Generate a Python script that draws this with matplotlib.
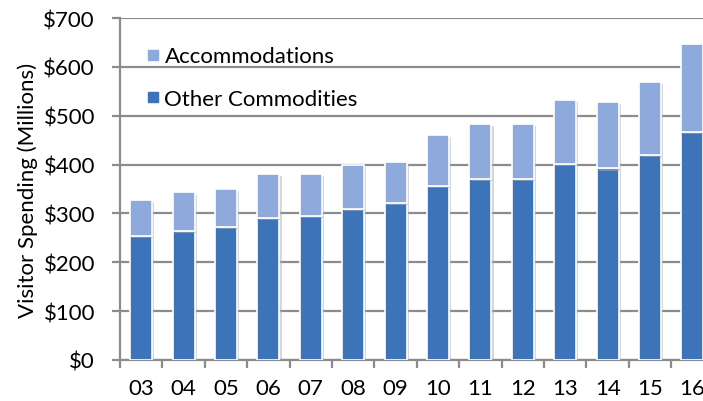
import matplotlib.pyplot as plt
import matplotlib.patheffects as pe
from matplotlib.lines import Line2D
import numpy as np

plt.rcParams['font.family'] = ['Lato', 'DejaVu Sans']

years = ['03', '04', '05', '06', '07', '08', '09', '10', '11', '12', '13', '14', '15', '16']
other = [254, 264, 272, 290, 294, 309, 321, 357, 370, 370, 401, 392, 420, 467]
accom = [74, 79, 78, 91, 87, 91, 85, 103, 113, 113, 132, 137, 150, 180]

dark = '#3C73B9'
light = '#8EAADC'
grid_c = '#8C8C8C'

fig = plt.figure(figsize=(7.03, 4.02), dpi=100)
ax = fig.add_axes([0.1707, 0.102, 0.8444, 0.8507])

x = np.arange(len(years))
shadow = [pe.SimplePatchShadow(offset=(1.5, -1.5), shadow_rgbFace='#b0b0b0', alpha=0.5), pe.Normal()]
b1 = ax.bar(x, other, width=0.52, color=dark, edgecolor='white', linewidth=1.2, zorder=3)
b2 = ax.bar(x, accom, width=0.52, bottom=other, color=light, edgecolor='white', linewidth=1.2, zorder=3)
for p in list(b1) + list(b2):
    p.set_path_effects(shadow)

ax.set_xlim(-0.5, len(years) - 0.5)
ax.set_ylim(0, 700)
ax.set_yticks(range(0, 701, 100))
ax.set_yticklabels(['$' + str(v) for v in range(0, 701, 100)])
ax.yaxis.grid(True, color=grid_c, linewidth=1.6, zorder=0)
ax.set_axisbelow(True)

ax.set_xticks(x)
ax.set_xticklabels(years)
ax.set_xticks(np.arange(-0.5, len(years), 1), minor=True)
ax.tick_params(axis='x', which='major', length=0, pad=13, labelsize=16)
ax.tick_params(axis='x', which='minor', length=6, width=1.6, color=grid_c)
ax.tick_params(axis='y', length=6, width=1.6, color=grid_c, pad=12, labelsize=16)

for s in ['top', 'right']:
    ax.spines[s].set_visible(False)
for s in ['left', 'bottom']:
    ax.spines[s].set_color(grid_c)
    ax.spines[s].set_linewidth(1.6)

ax.set_ylabel('Visitor Spending (Millions)', fontsize=16, labelpad=4)

handles = [Line2D([], [], marker='s', linestyle='', color=light, markersize=7),
           Line2D([], [], marker='s', linestyle='', color=dark, markersize=7)]
ax.legend(handles, ['Accommodations', 'Other Commodities'], loc='upper left',
          bbox_to_anchor=(0.03, 0.93), frameon=False, fontsize=16,
          handletextpad=0.0, handlelength=1.0, labelspacing=1.0,
          borderpad=0.2, borderaxespad=0)

fig.savefig('out.png', dpi=100)
